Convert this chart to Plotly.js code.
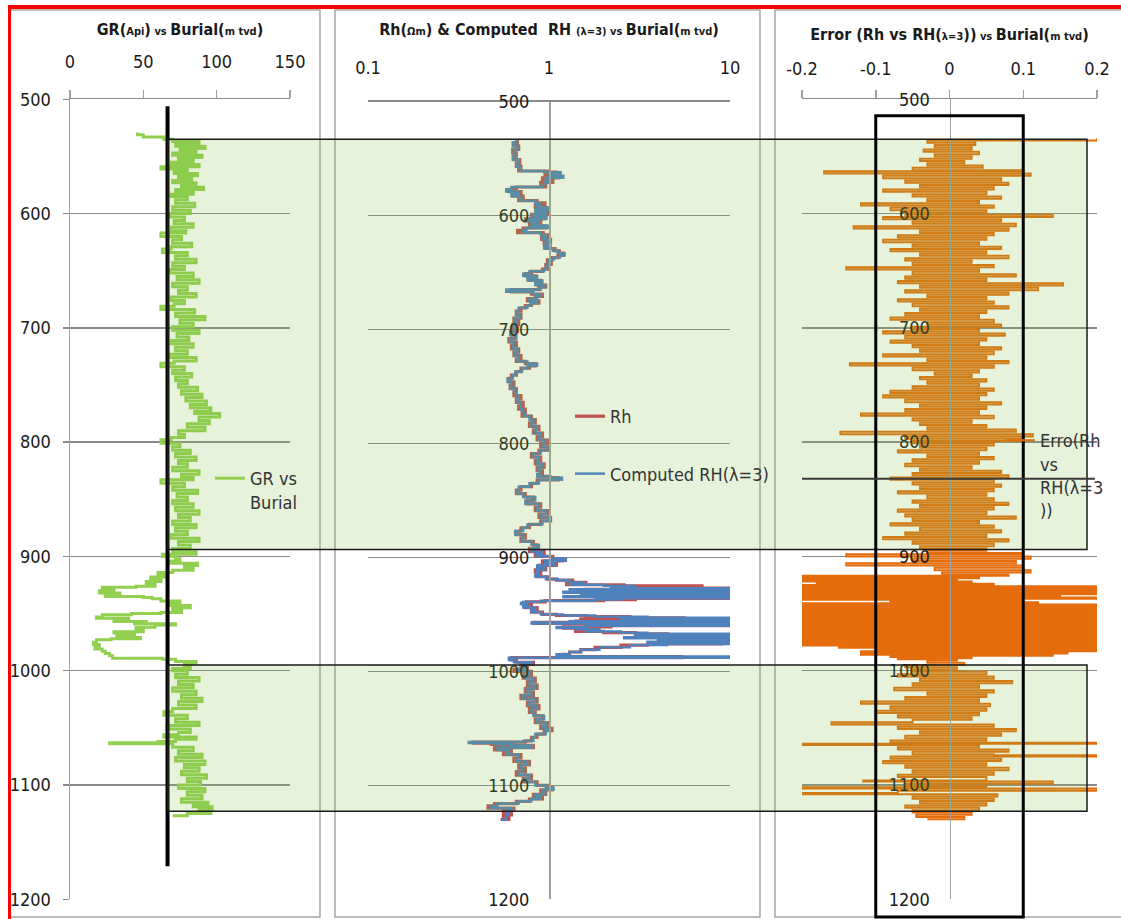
<!DOCTYPE html>
<html><head><meta charset="utf-8">
<script src="https://cdn.plot.ly/plotly-3.0.1.min.js"></script>
<style>html,body{margin:0;padding:0;background:#fff}#chart{width:1121px;height:919px}</style>
</head><body><div id="chart"></div>
<script>
// ---------------- DATA ----------------
// GR log: [depth (m tvd), GR (API)]
const GR_SAMPLES = [
[529,46],[531,50],[533,64],[535,70],[537,88],[539,72],[541,92],[543,75],[545,86],[547,70],[549,90],[551,74],[553,84],[555,69],[557,88],[559,62],[561,80],[563,71],[565,87],[567,74],[569,83],[571,70],[573,86],[575,76],[577,91],[579,72],[581,84],[583,69],[585,80],[588,72],[591,85],[594,70],[597,82],[600,68],[603,78],[606,71],[609,84],[612,69],[615,79],[617,62],[620,76],[623,70],[626,83],[629,69],[631,63],[634,80],[637,72],[640,86],[643,70],[646,78],[649,68],[652,84],[655,73],[658,88],[661,70],[664,80],[667,74],[670,86],[673,69],[676,78],[679,71],[681,62],[684,85],[687,72],[690,92],[693,75],[696,84],[699,70],[702,88],[705,73],[708,81],[711,69],[714,84],[717,72],[720,80],[723,68],[726,86],[729,71],[731,62],[734,78],[737,70],[740,83],[743,72],[746,80],[749,74],[752,87],[755,76],[758,90],[761,79],[764,93],[767,82],[770,96],[773,85],[775,102],[778,88],[781,95],[784,80],[787,92],[790,74],[793,78],[796,69],[798,62],[801,75],[804,70],[807,82],[810,72],[813,86],[816,74],[819,80],[822,70],[825,88],[828,76],[831,84],[833,62],[836,78],[839,70],[842,87],[845,73],[848,80],[851,70],[854,84],[857,72],[860,88],[863,74],[866,82],[869,70],[872,86],[875,72],[878,80],[881,69],[884,88],[887,74],[890,82],[893,70],[896,86],[898,63],[900,72],[902,75],[904,68],[906,87],[908,78],[910,84],[912,70],[914,60],[916,66],[918,55],[920,62],[922,52],[924,58],[926,45],[927,22],[929,30],[930,20],[932,34],[933,24],[935,50],[936,56],[937,62],[939,75],[941,68],[943,82],[945,70],[947,76],[949,62],[950,42],[951,22],[953,18],[954,40],[956,30],[957,52],[958,44],[959,72],[960,58],[962,45],[964,50],[966,30],[967,44],[969,32],[971,48],[972,28],[973,18],[975,16],[977,20],[979,17],[981,22],[983,24],[985,27],[987,29],[989,63],[990,72],[992,86],[994,78],[996,82],[998,70],[1000,80],[1003,72],[1006,88],[1009,74],[1012,84],[1015,70],[1018,86],[1021,76],[1024,90],[1027,74],[1030,86],[1033,70],[1036,64],[1039,80],[1042,72],[1045,88],[1048,66],[1051,82],[1054,74],[1056,64],[1058,86],[1060,72],[1062,60],[1063,27],[1064,70],[1067,84],[1070,74],[1073,90],[1076,72],[1079,92],[1082,78],[1085,88],[1088,76],[1091,93],[1094,80],[1097,89],[1100,74],[1103,92],[1106,80],[1109,90],[1112,76],[1115,94],[1117,84],[1119,97],[1121,88],[1123,96],[1125,80],[1127,70]
];
// Resistivity: [depth, Rh (ohm.m), computed RH lambda=3 (ohm.m)]
const RH_SAMPLES = [
[533,0.67,0.66],[536,0.64,0.63],[539,0.68,0.67],[542,0.63,0.64],[545,0.66,0.65],[548,0.64,0.63],[551,0.69,0.68],[554,0.66,0.66],[557,0.70,0.69],[559,0.68,0.70],[561,0.98,0.94],[562,1.10,1.16],[563,0.95,1.00],[565,1.12,1.20],[567,0.92,0.96],[569,1.05,1.02],[571,0.90,0.94],[573,0.96,0.92],[575,0.66,0.62],[577,0.60,0.58],[579,0.70,0.68],[581,0.63,0.62],[583,0.72,0.70],[585,0.68,0.69],[587,0.86,0.84],[589,0.95,0.90],[591,0.84,0.86],[593,0.97,0.99],[595,0.86,0.84],[597,0.99,0.96],[599,0.80,0.82],[601,0.94,0.97],[603,0.74,0.76],[605,0.90,0.88],[607,0.78,0.80],[609,0.96,0.99],[611,0.72,0.75],[613,0.67,0.72],[615,0.93,0.90],[617,0.98,0.96],[619,0.91,0.93],[621,1.02,1.00],[623,0.94,0.96],[625,1.00,1.02],[627,0.96,0.94],[629,1.08,1.05],[631,1.14,1.12],[633,1.20,1.22],[635,1.12,1.15],[637,1.04,1.06],[639,0.98,1.00],[641,1.03,1.01],[643,0.96,0.98],[645,1.00,0.97],[647,0.92,0.94],[649,0.80,0.78],[651,0.74,0.72],[653,0.84,0.86],[655,0.78,0.76],[657,0.90,0.92],[659,0.86,0.84],[661,0.96,0.94],[663,0.88,0.90],[665,0.62,0.58],[667,0.80,0.82],[669,0.92,0.90],[671,0.84,0.86],[673,0.76,0.78],[675,0.88,0.86],[677,0.80,0.79],[679,0.74,0.76],[681,0.70,0.68],[684,0.66,0.67],[687,0.70,0.69],[690,0.64,0.65],[693,0.68,0.66],[696,0.63,0.64],[699,0.67,0.66],[702,0.62,0.61],[705,0.65,0.66],[708,0.60,0.61],[711,0.66,0.64],[714,0.62,0.63],[717,0.68,0.67],[720,0.64,0.65],[723,0.70,0.68],[726,0.66,0.67],[728,0.74,0.76],[730,0.84,0.86],[732,0.78,0.76],[734,0.70,0.71],[737,0.66,0.65],[740,0.62,0.63],[743,0.60,0.59],[746,0.64,0.62],[749,0.61,0.62],[752,0.66,0.65],[755,0.64,0.66],[758,0.70,0.68],[761,0.66,0.67],[764,0.72,0.70],[767,0.68,0.70],[770,0.74,0.72],[773,0.71,0.73],[776,0.80,0.78],[779,0.84,0.82],[782,0.78,0.80],[785,0.88,0.86],[788,0.82,0.84],[791,0.92,0.90],[794,0.86,0.88],[797,0.98,0.95],[800,0.90,0.92],[803,1.00,0.98],[806,0.88,0.90],[809,0.80,0.82],[812,0.90,0.88],[815,0.84,0.86],[818,0.94,0.92],[821,0.86,0.88],[824,0.92,0.90],[827,0.88,0.86],[829,1.00,1.02],[830,1.12,1.18],[832,0.86,0.88],[835,0.80,0.78],[838,0.70,0.68],[841,0.66,0.67],[844,0.74,0.72],[847,0.82,0.84],[850,0.76,0.74],[853,0.90,0.88],[856,0.84,0.86],[859,0.98,0.96],[862,0.88,0.90],[865,1.02,1.00],[868,0.90,0.92],[871,0.78,0.76],[874,0.70,0.72],[877,0.66,0.65],[880,0.74,0.72],[883,0.70,0.71],[886,0.82,0.80],[889,0.86,0.88],[892,0.78,0.80],[895,0.94,0.92],[897,0.84,0.86],[899,1.05,1.02],[901,1.18,1.24],[903,0.92,0.95],[905,1.10,1.08],[907,0.88,0.86],[909,0.96,0.94],[911,0.84,0.86],[913,0.90,0.88],[915,0.86,0.84],[917,0.98,0.96],[919,1.10,1.12],[920,1.35,1.30],[922,1.60,1.55],[923,1.25,1.30],[924,2.60,2.0],[925,7.0,3.0],[926,3.5,2.2],[927,12,12],[928,1.6,1.3],[929,12,12],[930,6.0,1.2],[931,12,12],[932,2.5,1.5],[933,12,12],[934,3.0,1.2],[935,12,12],[936,3.0,2.5],[937,2.0,1.8],[938,0.95,0.90],[939,0.75,0.72],[940,0.72,0.70],[941,0.80,0.76],[942,0.74,0.72],[944,0.86,0.84],[946,0.80,0.80],[948,0.92,0.90],[950,1.10,1.20],[951,1.60,1.80],[952,2.80,3.5],[953,5.6,12],[954,1.5,2.5],[955,3.2,12],[956,1.4,1.3],[957,0.82,0.80],[958,5.0,12],[959,12,12],[960,2.2,1.6],[961,1.2,1.1],[962,1.5,1.4],[963,1.8,1.9],[964,1.4,1.6],[965,2.0,2.5],[966,3.0,3.5],[967,4.5,12],[968,8.3,3.0],[969,3.0,12],[970,12,2.6],[971,5.0,12],[972,8.0,4.0],[973,12,12],[974,6.5,3.5],[975,9.0,12],[976,3.5,4.5],[977,2.5,2.8],[979,1.8,1.9],[981,1.5,1.5],[983,1.3,1.3],[985,1.2,1.1],[987,5.4,12],[988,0.62,0.60],[990,0.66,0.64],[992,0.82,0.80],[994,0.70,0.72],[996,0.76,0.74],[998,0.64,0.66],[1000,0.80,0.78],[1003,0.72,0.74],[1006,0.84,0.82],[1009,0.76,0.78],[1012,0.86,0.84],[1015,0.74,0.76],[1018,0.82,0.80],[1021,0.70,0.72],[1024,0.86,0.84],[1027,0.76,0.78],[1030,0.88,0.86],[1033,0.78,0.80],[1036,0.84,0.82],[1039,0.92,0.94],[1042,0.84,0.86],[1045,0.98,0.96],[1048,0.90,0.92],[1050,1.04,1.02],[1052,0.94,0.96],[1055,0.86,0.84],[1058,0.80,0.82],[1061,0.74,0.72],[1062,0.38,0.36],[1063,0.48,0.50],[1064,0.64,0.62],[1065,0.82,0.80],[1067,0.50,0.52],[1069,0.62,0.60],[1071,0.56,0.58],[1073,0.70,0.68],[1076,0.64,0.66],[1079,0.78,0.76],[1082,0.68,0.70],[1085,0.74,0.72],[1088,0.66,0.68],[1091,0.80,0.78],[1094,0.72,0.74],[1097,0.86,0.84],[1100,0.98,0.96],[1102,1.04,1.06],[1104,0.90,0.92],[1106,0.96,0.94],[1108,0.82,0.84],[1110,0.92,0.90],[1112,0.78,0.80],[1114,0.66,0.68],[1116,0.50,0.52],[1118,0.46,0.48],[1120,0.64,0.62],[1122,0.56,0.58],[1124,0.62,0.60],[1126,0.56,0.58],[1128,0.60,0.58],[1130,0.54,0.55]
];
// Error (Rh vs RH(lambda=3)): [depth, error]
const ERR_SAMPLES = [
[534,0.2],[536,-0.03],[538,0.035],[540,-0.02],[542,0.03],[544,-0.035],[546,0.04],[548,-0.02],[550,0.03],[552,-0.04],[554,0.02],[556,-0.03],[558,0.045],[560,-0.05],[562,0.1],[563,-0.17],[565,0.11],[567,-0.09],[569,0.07],[571,-0.06],[573,0.08],[575,-0.04],[577,0.06],[579,-0.09],[581,0.05],[583,-0.05],[585,0.07],[587,-0.03],[589,0.04],[591,-0.12],[593,0.06],[595,-0.08],[597,0.05],[599,-0.06],[601,0.14],[603,-0.09],[605,0.07],[607,-0.05],[609,0.09],[611,-0.13],[613,0.08],[615,-0.04],[617,0.06],[619,-0.07],[621,0.05],[623,-0.09],[625,0.04],[627,-0.05],[629,0.07],[631,-0.08],[633,0.05],[635,-0.04],[637,0.08],[639,-0.06],[641,0.03],[643,-0.05],[645,0.06],[647,-0.14],[649,0.04],[651,-0.05],[653,0.09],[655,-0.06],[657,0.05],[659,-0.07],[661,0.154],[663,-0.04],[665,0.12],[667,-0.06],[669,0.08],[671,-0.03],[673,0.05],[675,-0.07],[677,0.06],[679,-0.05],[681,0.08],[683,-0.04],[685,0.05],[687,-0.06],[689,0.04],[691,-0.08],[693,0.06],[695,-0.03],[697,0.07],[699,-0.05],[701,0.04],[703,-0.09],[705,0.075],[707,-0.06],[709,0.05],[711,-0.08],[713,0.04],[715,-0.05],[717,0.07],[719,-0.04],[721,0.06],[723,-0.09],[725,0.05],[727,-0.03],[729,0.08],[731,-0.135],[733,0.06],[735,-0.05],[737,0.04],[739,-0.02],[741,0.03],[743,-0.04],[745,0.05],[747,-0.03],[749,0.04],[751,-0.05],[753,0.06],[755,-0.08],[757,0.05],[759,-0.09],[761,0.04],[763,-0.06],[765,0.07],[767,-0.04],[769,0.05],[771,-0.06],[773,0.04],[775,-0.12],[777,0.06],[779,-0.05],[781,0.03],[783,-0.04],[785,0.05],[787,-0.03],[789,0.09],[791,-0.148],[793,0.113],[795,-0.06],[797,0.1],[799,-0.05],[801,0.06],[803,-0.04],[805,0.05],[807,-0.07],[809,0.04],[811,-0.03],[813,0.06],[815,-0.05],[817,0.04],[819,-0.06],[821,0.03],[823,-0.04],[825,0.07],[827,-0.05],[829,0.08],[831,-0.08],[833,0.06],[835,-0.05],[837,0.07],[839,-0.04],[841,0.06],[843,-0.07],[845,0.05],[847,-0.03],[849,0.06],[851,-0.05],[853,0.08],[855,-0.04],[857,0.06],[859,-0.07],[861,0.05],[863,-0.06],[865,0.09],[867,-0.05],[869,0.04],[871,-0.08],[873,0.06],[875,-0.04],[877,0.07],[879,-0.06],[881,0.05],[883,-0.09],[885,0.08],[887,-0.05],[889,0.06],[891,-0.04],[893,0.05],[895,-0.03],[897,0.10],[898,-0.14],[900,0.11],[902,-0.05],[904,0.09],[906,-0.14],[908,0.10],[910,-0.02],[912,0.11],[914,-0.01],[916,0.08],[917,-0.25],[918,0.04],[919,-0.22],[920,0.01],[921,-0.25],[922,0.03],[923,-0.18],[924,0.06],[925,-0.3],[926,0.3],[927,-0.3],[928,0.3],[929,-0.3],[930,0.3],[931,-0.25],[932,0.3],[933,-0.3],[934,0.15],[935,-0.3],[936,0.3],[937,-0.3],[938,0.1],[939,-0.08],[940,0.12],[941,-0.3],[942,0.3],[943,-0.3],[944,0.3],[945,-0.3],[946,0.3],[947,-0.3],[948,0.3],[949,-0.3],[950,0.3],[951,-0.3],[952,0.3],[953,-0.3],[954,0.3],[955,-0.3],[956,0.25],[957,-0.3],[958,0.3],[959,-0.3],[960,0.3],[961,-0.3],[962,0.3],[963,-0.3],[964,0.3],[965,-0.3],[966,0.3],[967,-0.3],[968,0.3],[969,-0.3],[970,0.3],[971,-0.3],[972,0.3],[973,-0.3],[974,0.3],[975,-0.3],[976,0.3],[977,-0.25],[978,0.2],[979,-0.15],[980,0.3],[981,-0.1],[982,0.3],[983,-0.12],[984,0.16],[985,-0.12],[986,0.14],[987,-0.08],[988,0.03],[989,-0.07],[990,0.01],[991,-0.03],[993,0.02],[995,-0.06],[997,0.01],[999,-0.05],[1001,0.05],[1003,-0.07],[1005,0.06],[1007,-0.04],[1009,0.085],[1011,-0.05],[1013,0.04],[1015,-0.075],[1017,0.06],[1019,-0.03],[1021,0.05],[1023,-0.06],[1025,0.04],[1027,-0.12],[1029,0.055],[1031,-0.08],[1033,0.05],[1035,-0.1],[1037,0.04],[1039,-0.07],[1041,0.03],[1043,-0.05],[1045,-0.16],[1047,0.06],[1049,-0.07],[1051,0.09],[1053,-0.04],[1055,0.07],[1057,-0.06],[1059,0.05],[1061,-0.08],[1063,0.3],[1064,-0.3],[1065,0.04],[1067,-0.07],[1069,0.08],[1071,-0.05],[1073,0.06],[1074,0.3],[1075,-0.08],[1077,0.07],[1079,-0.09],[1081,0.05],[1083,-0.06],[1085,0.08],[1087,-0.05],[1089,0.06],[1091,-0.07],[1093,0.05],[1096,-0.117],[1097,0.14],[1099,-0.06],[1101,0.05],[1102,-0.3],[1103,0.3],[1105,-0.07],[1107,-0.3],[1108,0.065],[1110,-0.05],[1112,0.06],[1114,-0.04],[1116,0.05],[1118,-0.06],[1120,0.04],[1122,-0.05],[1124,0.03],[1126,-0.045],[1128,0.02],[1130,-0.03]
];
const DEPTH_TICKS = [500,600,700,800,900,1000,1100,1200];
const GR_TICKS = [0,50,100,150];
const RH_TICKS = [0.1,1,10];
const RH_TICK_TEXT = ['0.1','1','10'];
const ERR_TICKS = [-0.2,-0.1,0,0.1,0.2];
const ERR_TICK_TEXT = ['-0.2','-0.1','0','0.1','0.2'];
const GR_CUTOFF = 66.5;            // GR cut-off line value
const CUTOFF_DEPTHS = [506,1171];  // extent of the cut-off line
const ZONES = [[535,894],[995,1123]];  // shaded intervals (m tvd)
const ERR_BAND = [-0.1,0.1];
const MARK_DEPTH = 832;

// ---------------- LAYOUT ----------------
const W = 1121, H = 919;
const px = v => v / W;
const py = v => 1 - v / H;
const FONT = "'DejaVu Sans Condensed', 'Liberation Sans Narrow', sans-serif";
const TXT = '#1a1a1a';
const GRID = '#8a8a8a';
const AXL = '#a0a0a0';
const tickFont = {family: FONT, size: 18, color: TXT};
const titleFont = {family: FONT, size: 16, color: TXT, weight: 'bold'};
const sm = t => '<span style="font-size:11px">' + t + '</span>';

const yBase = {range:[1200,500], tickvals: DEPTH_TICKS, zeroline:false, showgrid:true,
  gridcolor: GRID, gridwidth: 1.5, showline:true, linecolor: AXL, linewidth: 1.5, tickfont: tickFont, fixedrange:true};

const layout = {
  width: W, height: H, margin:{l:0,r:0,t:0,b:0}, paper_bgcolor:'#fff', plot_bgcolor:'rgba(0,0,0,0)',
  hovermode:false, showlegend:true,
  xaxis: {domain:[px(70), px(290)], range:[0,150], side:'top', anchor:'y', tickvals: GR_TICKS,
    ticks:'outside', ticklen:8, tickwidth:1.5, tickcolor: AXL, showline:true, linecolor: GRID, linewidth:1.5,
    showgrid:false, zeroline:false, tickfont: tickFont, ticklabelstandoff: 15,
    title:{text:'GR(' + sm('Api') + ')' + sm(' vs ') + 'Burial(' + sm('m tvd') + ')', font: titleFont, standoff: 11}},
  yaxis: Object.assign({}, yBase, {domain:[py(899.3), py(99.3)], anchor:'x', ticks:'outside', ticklen:6, tickcolor: GRID, tickwidth:1.5, ticklabelstandoff: 8}),
  xaxis2: {domain:[px(368), px(730)], type:'log', range:[-1,1], side:'top', anchor:'y2', tickvals: RH_TICKS, ticktext: RH_TICK_TEXT,
    ticks:'', showline:true, linecolor: GRID, linewidth:1.5, showgrid:false, zeroline:false, tickfont: tickFont, ticklabelstandoff: 19,
    title:{text:'Rh(' + sm('Ωm') + ') &amp; Computed  RH ' + sm('(λ=3)') + sm(' vs ') + 'Burial(' + sm('m tvd') + ')', font: titleFont, standoff: 17}},
  yaxis2: Object.assign({}, yBase, {domain:[py(899.3), py(101.5)], anchor:'free', position: px(549), ticks:'', ticklabelstandoff: 16}),
  xaxis3: {domain:[px(802), px(1097)], range:[-0.2,0.2], side:'top', anchor:'y3', tickvals: ERR_TICKS, ticktext: ERR_TICK_TEXT,
    ticks:'outside', ticklen:8, tickwidth:1.5, tickcolor: AXL, showline:true, linecolor: GRID, linewidth:1.5,
    showgrid:false, zeroline:false, tickfont: tickFont, ticklabelstandoff: 8,
    title:{text:'Error (Rh vs RH(' + sm('λ=3') + '))' + sm(' vs ') + 'Burial(' + sm('m tvd') + ')', font: titleFont, standoff: 13}},
  yaxis3: Object.assign({}, yBase, {domain:[py(899.3), py(99.3)], anchor:'free', position: px(949.5), ticks:'', ticklabelstandoff: 16}),
  legend: {x: px(210), y: py(460), xanchor:'left', yanchor:'top', bgcolor:'rgba(0,0,0,0)', valign:'top',
    font:{family: FONT, size:18, color:'#333'}},
  legend2: {x: px(570), y: py(398), xanchor:'left', yanchor:'top', bgcolor:'rgba(0,0,0,0)', traceorder:'grouped', tracegroupgap: 31,
    font:{family: FONT, size:18, color:'#333'}},
  legend3: {x: px(1000), y: py(422), xanchor:'left', yanchor:'top', bgcolor:'rgba(0,0,0,0)', valign:'top',
    font:{family: FONT, size:18, color:'#333'}},
  shapes: []
};

// panel frames (gray) and the red outer border
[[10,320],[335,760],[775,1125]].forEach(([a,b]) => layout.shapes.push({type:'rect', xref:'paper', yref:'paper',
  x0:px(a), x1:px(b), y0:py(917), y1:py(10), line:{color:'#a6a6a6', width:1.5}, fillcolor:'rgba(0,0,0,0)', layer:'below'}));
layout.shapes.push({type:'line', xref:'paper', yref:'paper', x0:px(8), x1:1, y0:py(7), y1:py(7), line:{color:'#ff0000', width:4}, layer:'above'});
layout.shapes.push({type:'line', xref:'paper', yref:'paper', x0:px(9.5), x1:px(9.5), y0:0, y1:py(5), line:{color:'#ff0000', width:3}, layer:'above'});

// shaded intervals
ZONES.forEach(([top,bot]) => layout.shapes.push({type:'rect', xref:'paper', yref:'y', x0:px(167.7), x1:px(1087),
  y0:top, y1:bot, fillcolor:'rgba(130,190,70,0.2)', line:{color:'#1a1a1a', width:1.5}, layer:'above'}));

// error band box and marker line in panel 3
layout.shapes.push({type:'rect', xref:'x3', yref:'paper', x0:ERR_BAND[0], x1:ERR_BAND[1], y0:py(917), y1:py(115.7),
  line:{color:'#000', width:3}, fillcolor:'rgba(0,0,0,0)', layer:'above'});
layout.shapes.push({type:'line', xref:'x3', yref:'y3', x0:-0.2, x1:0.197, y0:MARK_DEPTH, y1:MARK_DEPTH,
  line:{color:'#3a3a3a', width:2}, layer:'above'});

// ---------------- TRACES ----------------
const data = [
  {type:'scatter', mode:'lines', name:'GR vs<br>Burial', legend:'legend', xaxis:'x', yaxis:'y',
   x: GR_SAMPLES.map(r => r[1]), y: GR_SAMPLES.map(r => r[0]), line:{color:'#92D050', width:3, shape:'vh'}},
  {type:'scatter', mode:'lines', showlegend:false, xaxis:'x', yaxis:'y',
   x:[GR_CUTOFF, GR_CUTOFF], y: CUTOFF_DEPTHS, line:{color:'#000', width:4}},
  {type:'scatter', mode:'lines', name:'Rh', legend:'legend2', legendgroup:'rh', xaxis:'x2', yaxis:'y2',
   x: RH_SAMPLES.map(r => r[1]), y: RH_SAMPLES.map(r => r[0]), line:{color:'#C0504D', width:3.2, shape:'vh'}},
  {type:'scatter', mode:'lines', name:'Computed RH(λ=3)', legend:'legend2', legendgroup:'rhc', xaxis:'x2', yaxis:'y2',
   x: RH_SAMPLES.map(r => r[2]), y: RH_SAMPLES.map(r => r[0]), line:{color:'#4F81BD', width:2.4, shape:'vh'}},
  {type:'scatter', mode:'lines', name:'Erro(Rh<br>vs<br>RH(λ=3<br>))', legend:'legend3', xaxis:'x3', yaxis:'y3',
   x: ERR_SAMPLES.map(r => r[1]), y: ERR_SAMPLES.map(r => r[0]), line:{color:'#E46C0A', width:2, shape:'vh'}}
];

Plotly.newPlot('chart', data, layout, {displayModeBar:false, staticPlot:true});
</script>
</body></html>
